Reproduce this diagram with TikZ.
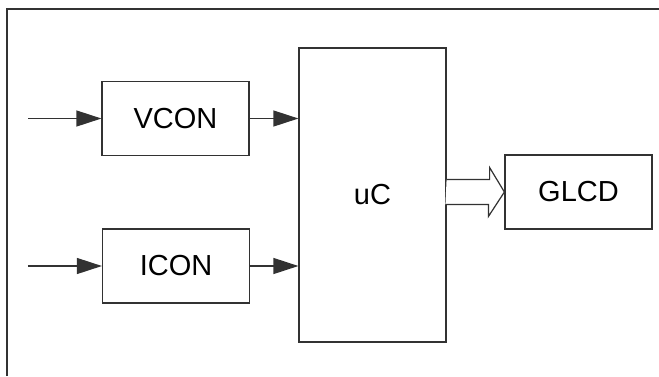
\documentclass[tikz,border=0pt]{standalone}
\usepackage{fontspec}
\setmainfont{Liberation Sans}
\usepackage{tikz}
\usetikzlibrary{arrows.meta,positioning,calc}
\definecolor{blockgray}{RGB}{50,50,50}

\begin{document}
\begin{tikzpicture}[x=1pt,y=-1pt,box/.style={draw=blockgray,line width=1.2pt,fill=white,minimum width=147pt,minimum height=74pt,inner sep=0pt,font=\fontsize{29}{32}\selectfont},arr/.style={-{Triangle[length=25pt,width=16pt]},line width=1.2pt,draw=blockgray},bus/.style={draw=blockgray,line width=1.2pt,fill=white,line join=miter}]
\useasboundingbox (0,0) rectangle (659,376);
\draw[draw=blockgray,line width=1.5pt] (7,376) -- (7,9) -- (659,9);
\node[box,minimum height=294pt] (uC) at (372.5,195) {uC};
\node[box] (VCON) at (175.5,118.5) {VCON};
\node[box] (ICON) at (176,266) {ICON};
\node[box] (GLCD) at (578.5,192) {GLCD};
\coordinate[left=73pt of VCON.west] (vin);
\coordinate[left=74pt of ICON.west] (iin);
\draw[arr] (vin) -- (VCON.west); \draw[arr] (iin) -- (ICON.west);
\foreach \x in {VCON,ICON}{\draw[arr] (\x.east) -- (uC.west |- \x.east);}
\draw[bus] (uC.east |- GLCD.west) ++(0,-12.5) -- ++(43,0) -- ++(0,-12) -- (GLCD.west) -- ++(-16,24.5) -- ++(0,-12) -- ++(-43,0);
\end{tikzpicture}
\end{document}
